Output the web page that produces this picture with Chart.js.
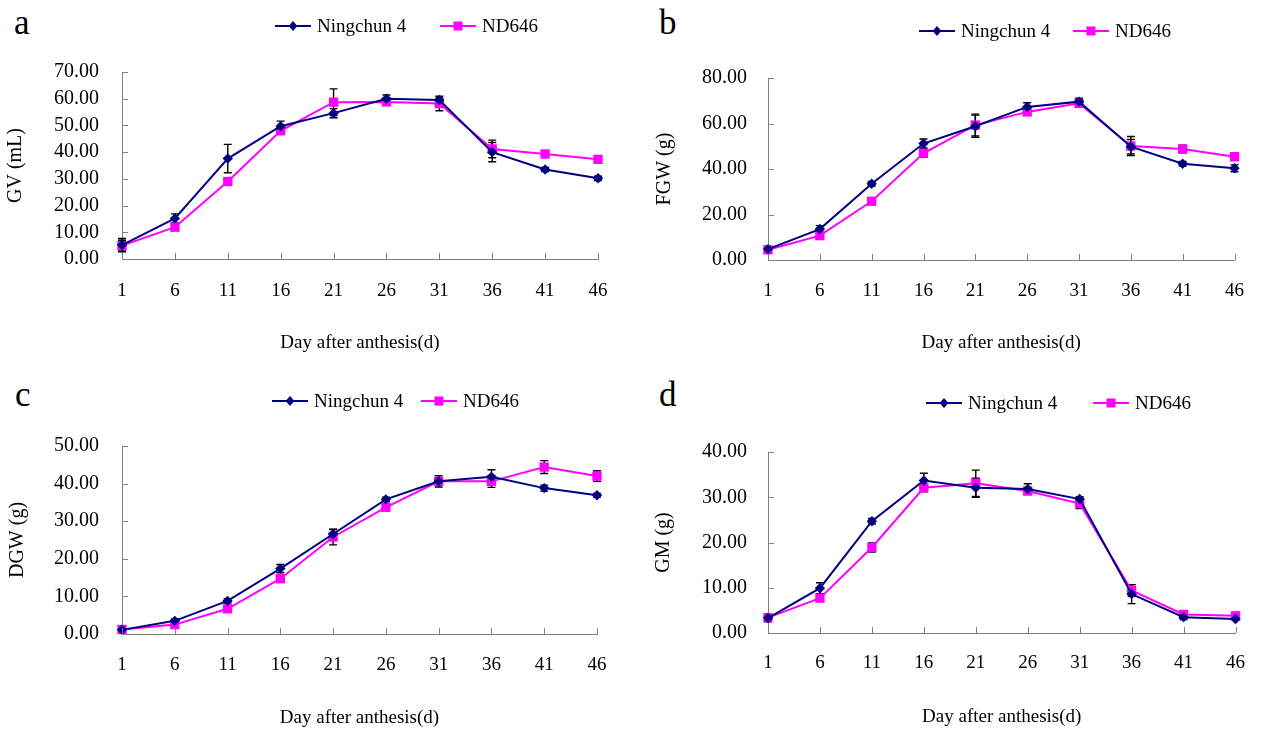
<!DOCTYPE html>
<html lang="en">
<head>
  <meta charset="UTF-8" />
  <title>Grain traits after anthesis</title>
  <script src="https://cdn.jsdelivr.net/npm/chart.js"></script>
  <style>
    body {
      margin: 0;
      background: #fff;
    }
    #wrap {
      position: relative;
      width: 1264px;
      height: 729px;
      overflow: hidden;
    }
    canvas {
      position: absolute;
    }
    .letter {
      position: absolute;
      font-family: "Liberation Serif", "Times New Roman", serif;
      font-size: 35px;
      line-height: 35px;
      color: #000;
    }
  </style>
</head>
<body>
  <div id="wrap">
    <div class="letter" style="left:14px;top:5px">a</div>
    <div class="letter" style="left:659px;top:5px">b</div>
    <div class="letter" style="left:15px;top:377px">c</div>
    <div class="letter" style="left:659px;top:377px">d</div>
  </div>

  <script>
    // days after anthesis
    const days = ["1", "6", "11", "16", "21", "26", "31", "36", "41", "46"];
    const seriesNames = ["Ningchun 4", "ND646"];

    // a: grain volume
    const gvNing = [5.2, 15.2, 37.6, 49.7, 54.6, 60.0, 59.5, 40.0, 33.5, 30.2];
    const gvNingErr = [2.5, 1.7, 5.3, 1.9, 1.7, 1.4, 0.8, 3.6, 0.8, 0.8];
    const gvND = [5.0, 11.9, 29.0, 48.0, 58.7, 58.8, 58.2, 41.2, 39.3, 37.3];
    const gvNDErr = [2.0, 1.2, 1.0, 1.3, 5.0, 0.8, 2.7, 3.3, 0.5, 0.6];

    // b: fresh grain weight
    const fgwNing = [4.8, 13.6, 33.5, 51.2, 58.8, 67.3, 69.6, 49.8, 42.3, 40.3];
    const fgwNingErr = [1.0, 1.5, 1.0, 2.0, 4.9, 1.8, 1.5, 3.2, 1.0, 1.5];
    const fgwND = [4.5, 10.7, 25.8, 46.9, 59.3, 65.1, 68.9, 50.1, 48.8, 45.4];
    const fgwNDErr = [1.0, 1.0, 1.0, 1.8, 4.8, 1.0, 1.8, 4.2, 1.7, 1.5];

    // c: dry grain weight
    const dgwNing = [1.1, 3.5, 8.8, 17.4, 26.6, 35.8, 40.6, 41.8, 38.8, 36.9];
    const dgwNingErr = [0.3, 0.5, 0.6, 1.1, 1.2, 0.6, 0.8, 1.9, 0.8, 0.5];
    const dgwND = [1.2, 2.5, 6.7, 14.7, 25.8, 33.7, 40.6, 40.6, 44.4, 42.0];
    const dgwNDErr = [0.3, 0.5, 0.5, 0.8, 2.1, 0.8, 1.5, 1.6, 1.7, 1.4];

    // d: grain moisture
    const gmNing = [3.3, 9.9, 24.7, 33.7, 32.1, 31.8, 29.6, 8.6, 3.5, 3.1];
    const gmNingErr = [0.8, 1.2, 0.6, 1.6, 2.1, 1.2, 0.5, 2.1, 0.5, 0.3];
    const gmND = [3.4, 7.7, 18.9, 32.1, 33.1, 31.4, 28.6, 9.4, 4.1, 3.8];
    const gmNDErr = [0.8, 0.7, 1.0, 0.9, 2.9, 0.5, 1.1, 1.3, 0.4, 0.3];

    const FONT = "'Liberation Serif', 'Times New Roman', serif";
    const NAVY = "#000080";
    const MAGENTA = "#ff00ff";
    const AXIS = "#808080";

    Chart.defaults.font.family = FONT;
    Chart.defaults.color = "#000";

    // page-space layout of every panel
    const panels = [
      { canvas: { x: 0, y: 0, w: 632, h: 364 }, plot: { l: 122, r: 598, t: 72, b: 259 },
        yMax: 70, yStep: 10, yTitle: "GV (mL)", yTitleX: 16, yPad: 23, xPad: 21, xTitleY: 343,
        legend: { x1: 275, x2: 440, y: 26 },
        data: [gvNing, gvND], err: [gvNingErr, gvNDErr] },
      { canvas: { x: 632, y: 0, w: 632, h: 364 }, plot: { l: 768, r: 1245, t: 78, b: 260 },
        yMax: 80, yStep: 20, yTitle: "FGW (g)", yTitleX: 665, yPad: 21, xPad: 20, xTitleY: 343,
        legend: { x1: 919, x2: 1073, y: 31 },
        data: [fgwNing, fgwND], err: [fgwNingErr, fgwNDErr] },
      { canvas: { x: 0, y: 364, w: 632, h: 365 }, plot: { l: 122, r: 597, t: 446, b: 634 },
        yMax: 50, yStep: 10, yTitle: "DGW (g)", yTitleX: 18, yPad: 23, xPad: 20, xTitleY: 718,
        legend: { x1: 272, x2: 421, y: 401 },
        data: [dgwNing, dgwND], err: [dgwNingErr, dgwNDErr] },
      { canvas: { x: 632, y: 364, w: 632, h: 365 }, plot: { l: 768, r: 1244, t: 452, b: 633 },
        yMax: 40, yStep: 10, yTitle: "GM (g)", yTitleX: 664, yPad: 21, xPad: 19, xTitleY: 717,
        legend: { x1: 926, x2: 1093, y: 403 },
        data: [gmNing, gmND], err: [gmNingErr, gmNDErr] },
    ];

    function drawMarker(ctx, style, x, y, color) {
      ctx.fillStyle = color;
      ctx.beginPath();
      if (style === "rectRot") {
        const r = 5;
        ctx.moveTo(x - r + 0.6, y);
        ctx.lineTo(x, y - r);
        ctx.lineTo(x + r - 0.6, y);
        ctx.lineTo(x, y + r);
      } else {
        const s = 4.5;
        ctx.rect(x - s, y - s, 2 * s, 2 * s);
      }
      ctx.closePath();
      ctx.fill();
    }

    const extras = {
      id: "extras",
      beforeDatasetsDraw(chart) {
        const ctx = chart.ctx;
        const yScale = chart.scales.y;
        const errs = chart.options.plugins.extras.err;
        ctx.save();
        ctx.strokeStyle = "#000";
        ctx.lineWidth = 1.4;
        chart.data.datasets.forEach((ds, i) => {
          const meta = chart.getDatasetMeta(i);
          ds.data.forEach((v, j) => {
            const e = errs[i][j];
            const x = meta.data[j].x;
            const yt = yScale.getPixelForValue(v + e);
            const yb = yScale.getPixelForValue(v - e);
            ctx.beginPath();
            ctx.moveTo(x, yt); ctx.lineTo(x, yb);
            ctx.moveTo(x - 4, yt); ctx.lineTo(x + 4, yt);
            ctx.moveTo(x - 4, yb); ctx.lineTo(x + 4, yb);
            ctx.stroke();
          });
        });
        ctx.restore();
      },
      afterDraw(chart) {
        const ctx = chart.ctx;
        const area = chart.chartArea;
        const xs = chart.scales.x, ys = chart.scales.y;
        const opts = chart.options.plugins.extras;

        // tick marks pointing into the plot
        ctx.save();
        ctx.strokeStyle = AXIS;
        ctx.lineWidth = 1;
        ctx.beginPath();
        ys.ticks.forEach((t, k) => {
          const y = Math.round(ys.getPixelForTick(k)) + 0.5;
          ctx.moveTo(area.left, y); ctx.lineTo(area.left + 6, y);
        });
        xs.ticks.forEach((t, k) => {
          const x = Math.round(xs.getPixelForTick(k)) + 0.5;
          ctx.moveTo(x, area.bottom); ctx.lineTo(x, area.bottom - 6);
        });
        ctx.stroke();

        // legend: line + marker + name
        const lg = opts.legend;
        const starts = [lg.x1, lg.x2];
        ctx.font = "19px " + FONT;
        ctx.textBaseline = "middle";
        ctx.textAlign = "left";
        chart.data.datasets.forEach((ds, i) => {
          const x0 = starts[i];
          ctx.strokeStyle = ds.borderColor;
          ctx.lineWidth = 2;
          ctx.beginPath();
          ctx.moveTo(x0, lg.y); ctx.lineTo(x0 + 36, lg.y);
          ctx.stroke();
          drawMarker(ctx, ds.pointStyle, x0 + 18, lg.y, ds.borderColor);
          ctx.fillStyle = "#000";
          ctx.fillText(ds.label, x0 + 42, lg.y + 1);
        });
        ctx.restore();
      }
    };

    const wrap = document.getElementById("wrap");

    panels.forEach(p => {
      const c = p.canvas, pl = p.plot;
      const cv = document.createElement("canvas");
      cv.width = c.w;
      cv.height = c.h;
      cv.style.left = c.x + "px";
      cv.style.top = c.y + "px";
      wrap.appendChild(cv);

      const styles = [
        { color: NAVY, point: "rectRot", radius: 5.2 },
        { color: MAGENTA, point: "rect", radius: 6.6 },
      ];

      new Chart(cv.getContext("2d"), {
        type: "line",
        data: {
          labels: days,
          datasets: p.data.map((d, i) => ({
            label: seriesNames[i],
            data: d,
            borderColor: styles[i].color,
            backgroundColor: styles[i].color,
            borderWidth: 2,
            pointStyle: styles[i].point,
            pointRadius: styles[i].radius,
            pointBorderWidth: 0,
            tension: 0,
            clip: false,
          })),
        },
        options: {
          responsive: false,
          animation: false,
          events: [],
          layout: {
            padding: { left: 0, top: pl.t - c.y, right: c.x + c.w - pl.r, bottom: 0 },
          },
          plugins: {
            legend: { display: false },
            tooltip: { enabled: false },
            extras: {
              err: p.err,
              legend: { x1: p.legend.x1 - c.x, x2: p.legend.x2 - c.x, y: p.legend.y - c.y },
            },
          },
          scales: {
            x: {
              offset: false,
              grid: { display: false, drawTicks: false },
              border: { display: true, color: AXIS, width: 1 },
              ticks: { font: { size: 19 }, padding: p.xPad, maxRotation: 0, autoSkip: false },
              title: {
                display: true,
                text: "Day after anthesis(d)",
                font: { size: 19 },
                padding: { top: 0, bottom: (c.y + c.h - p.xTitleY) - 19 * 1.2 / 2 },
              },
              afterFit: s => { s.height = c.y + c.h - pl.b; },
            },
            y: {
              min: 0,
              max: p.yMax,
              grid: { display: false, drawTicks: false },
              border: { display: true, color: AXIS, width: 1 },
              ticks: {
                stepSize: p.yStep,
                autoSkip: false,
                font: { size: 20 },
                padding: p.yPad,
                callback: v => v.toFixed(2),
              },
              title: {
                display: true,
                text: p.yTitle,
                font: { size: 20 },
                padding: { top: (p.yTitleX - c.x) - 20 * 1.2 / 2, bottom: 0 },
              },
              afterFit: s => { s.width = pl.l - c.x; },
            },
          },
        },
        plugins: [extras],
      });
    });
  </script>
</body>
</html>
